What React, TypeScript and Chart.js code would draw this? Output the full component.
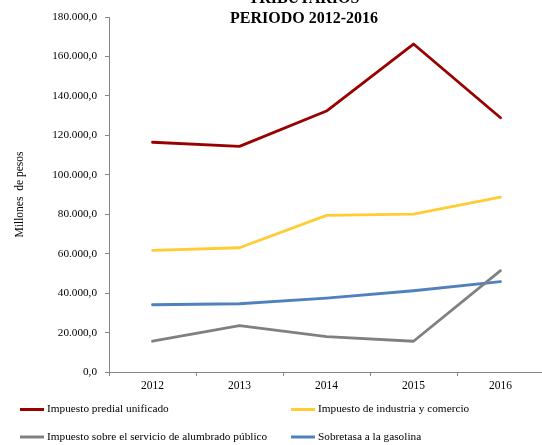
import { useEffect, useRef } from 'react';
import { Chart, registerables } from 'chart.js';

Chart.register(...registerables);

const categories = ['2012', '2013', '2014', '2015', '2016'];
const predial = [116500, 114400, 132300, 166300, 128900];
const industria = [61700, 63000, 79400, 80000, 88700];
const alumbrado = [15600, 23500, 17900, 15600, 51400];
const gasolina = [34100, 34600, 37500, 41200, 45800];

const seriesNames = [
  'Impuesto predial unificado',
  'Impuesto de industria y comercio',
  'Impuesto sobre el servicio de alumbrado público',
  'Sobretasa a la gasolina',
];
const seriesColors = ['#990000', '#FFCC33', '#808080', '#4F81BD'];
const titleLines = ['TRIBUTARIOS', 'PERIODO 2012-2016'];
const yAxisTitle = 'Millones  de pesos';
const yMin = 0;
const yMax = 180000;
const yStep = 20000;

const FONT = "'Liberation Serif', 'Times New Roman', serif";

function formatEs(v: number): string {
  const neg = v < 0;
  const abs = Math.abs(v);
  const intPart = Math.floor(abs);
  const dec = Math.round((abs - intPart) * 10);
  const s = String(intPart).replace(/\B(?=(\d{3})+(?!\d))/g, '.');
  return (neg ? '-' : '') + s + ',' + dec;
}

const titlePlugin = {
  id: 'customTitle',
  afterDraw(chart: any) {
    const ctx = chart.ctx;
    ctx.save();
    ctx.fillStyle = '#000';
    ctx.font = `bold 16px ${FONT}`;
    ctx.textAlign = 'center';
    ctx.textBaseline = 'alphabetic';
    const cx = 304;
    titleLines.forEach((t, i) => {
      ctx.fillText(t, cx, 3.3 + i * 19.4);
    });
    ctx.restore();
  },
};

const legendPlugin = {
  id: 'customLegend',
  afterDraw(chart: any) {
    const ctx = chart.ctx;
    const cols = [20, 291];
    const rows = [409.5, 437];
    ctx.save();
    ctx.font = `11.3px ${FONT}`;
    ctx.textBaseline = 'middle';
    ctx.textAlign = 'left';
    chart.data.datasets.forEach((ds: any, i: number) => {
      const x = cols[i % 2];
      const y = rows[Math.floor(i / 2)];
      ctx.strokeStyle = ds.borderColor;
      ctx.lineWidth = 3;
      ctx.beginPath();
      ctx.moveTo(x, y);
      ctx.lineTo(x + 24, y);
      ctx.stroke();
      ctx.fillStyle = '#000';
      ctx.fillText(ds.label, x + 27, y);
    });
    ctx.restore();
  },
};

export default function App() {
  const ref = useRef<HTMLCanvasElement>(null);

  useEffect(() => {
    const values = [predial, industria, alumbrado, gasolina];
    const chart = new Chart(ref.current!, {
      type: 'line',
      data: {
        labels: categories,
        datasets: values.map((d, i) => ({
          label: seriesNames[i],
          data: d,
          borderColor: seriesColors[i],
          backgroundColor: seriesColors[i],
          borderWidth: 2.8,
          pointRadius: 0,
          tension: 0,
          fill: false,
          borderJoinStyle: 'round' as const,
          borderCapStyle: 'round' as const,
        })),
      },
      options: {
        responsive: false,
        animation: false,
        devicePixelRatio: 1,
        layout: { padding: { top: 17, left: 0, right: 0, bottom: 0 } },
        plugins: {
          legend: { display: false },
          title: { display: false },
          tooltip: { enabled: false },
        },
        scales: {
          x: {
            type: 'category',
            offset: true,
            grid: {
              offset: true,
              drawOnChartArea: false,
              drawTicks: true,
              tickLength: 4,
              color: '#868686',
            },
            border: { display: true, color: '#868686', width: 1 },
            ticks: {
              color: '#000',
              padding: 3,
              font: { family: FONT, size: 11.5 },
              maxRotation: 0,
            },
            afterFit: (scale: any) => {
              scale.height = 73;
            },
          },
          y: {
            min: yMin,
            max: yMax,
            grid: {
              drawOnChartArea: false,
              drawTicks: true,
              tickLength: 4,
              color: '#868686',
            },
            border: { display: true, color: '#868686', width: 1 },
            ticks: {
              stepSize: yStep,
              color: '#000',
              padding: 8,
              font: { family: FONT, size: 11.2 },
              callback: (v: any) => formatEs(Number(v)),
            },
            title: {
              display: true,
              text: yAxisTitle,
              color: '#000',
              font: { family: FONT, size: 11.5 },
              padding: { top: 13, bottom: 0 },
            },
            afterFit: (scale: any) => {
              scale.width = 109;
            },
          },
        },
      },
      plugins: [titlePlugin, legendPlugin],
    });
    return () => chart.destroy();
  }, []);

  return (
    <div
      style={{
        position: 'fixed',
        left: 0,
        top: 0,
        width: 542,
        height: 445,
        overflow: 'hidden',
        background: '#fff',
      }}
    >
      <canvas ref={ref} width={544} height={445} style={{ display: 'block' }} />
    </div>
  );
}
